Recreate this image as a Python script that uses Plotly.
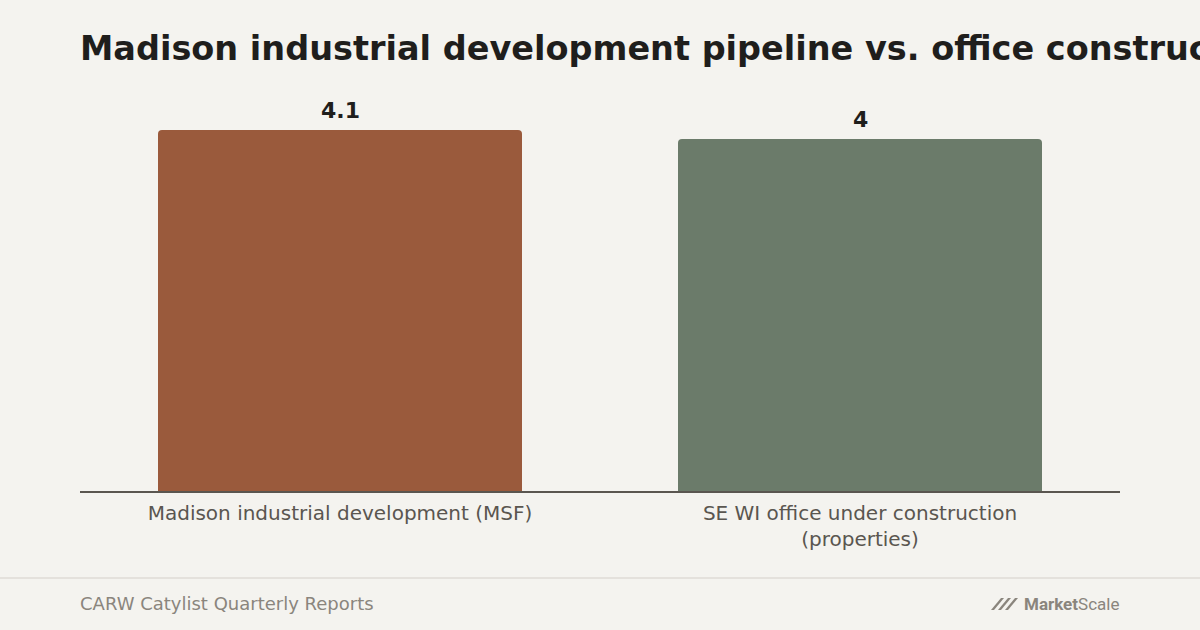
import plotly.graph_objects as go

categories = ["Madison industrial development (MSF)",
              "SE WI office under construction<br>(properties)"]
values = [4.1, 4.0]
value_labels = ["4.1", "4"]
bar_colors = ["#9a5a3c", "#6b7b6a"]

title = "Madison industrial development pipeline vs. office construction"
source = "CARW Catylist Quarterly Reports"

W, H = 1200, 630
L, R, T, B = 80, 80, 94, 139
PW, PH = W - L - R, H - T - B


def px_x(x):
    # pixel -> paper x
    return (x - L) / PW


def px_y(y):
    # pixel -> paper y
    return (H - B - y) / PH


fig = go.Figure()
fig.add_trace(go.Bar(
    x=categories, y=values,
    marker=dict(color=bar_colors, line=dict(width=0), cornerradius=4),
    hoverinfo="skip",
))

# value labels above bars
for cat, val, lab in zip(categories, values, value_labels):
    fig.add_annotation(x=cat, y=val, text="<b>" + lab + "</b>", showarrow=False,
                       yanchor="bottom", yshift=5,
                       font=dict(family="DejaVu Sans", size=22, color="#1f1e1c"))

# footer divider
fig.add_shape(type="line", xref="paper", yref="paper",
              x0=px_x(0), x1=px_x(W), y0=px_y(578), y1=px_y(578),
              line=dict(color="#e4e1dc", width=2))

# logo mark
icon = "M {} {} L {} {} L {} {} L {} {} Z".format
for x0 in (991, 998, 1005):
    fig.add_shape(type="path", xref="paper", yref="paper", line=dict(width=0),
                  fillcolor="#8a857d",
                  path=icon(px_x(x0), px_y(610), px_x(x0 + 10), px_y(598),
                            px_x(x0 + 13), px_y(598), px_x(x0 + 3), px_y(610)))

fig.add_annotation(xref="paper", yref="paper", x=px_x(78), y=px_y(603),
                   xanchor="left", yanchor="middle", showarrow=False,
                   text=source,
                   font=dict(family="DejaVu Sans", size=18, color="#8a857d"))
fig.add_annotation(xref="paper", yref="paper", x=px_x(1121), y=px_y(604),
                   xanchor="right", yanchor="middle", showarrow=False,
                   text="<b>Market</b>Scale",
                   font=dict(family="Roboto", size=17, color="#8a857d"))

fig.update_layout(
    width=W, height=H,
    margin=dict(l=L, r=R, t=T, b=B),
    paper_bgcolor="#f4f3ef", plot_bgcolor="#f4f3ef",
    title=dict(text="<b>" + title + "</b>", x=L / W, xanchor="left",
               y=1 - 48 / H, yanchor="middle",
               font=dict(family="DejaVu Sans", size=33.5, color="#1f1e1c")),
    bargap=0.3,
    showlegend=False,
    xaxis=dict(showline=True, linecolor="#5a5650", linewidth=2, ticks="",
               ticklabelstandoff=3,
               tickfont=dict(family="DejaVu Sans", size=20, color="#5a5650"),
               showgrid=False),
    yaxis=dict(visible=False, range=[0, 4.51], showgrid=False, zeroline=False),
)

fig.write_html("out.html", config={"displayModeBar": False},
               post_script="document.body.style.margin='0';")
